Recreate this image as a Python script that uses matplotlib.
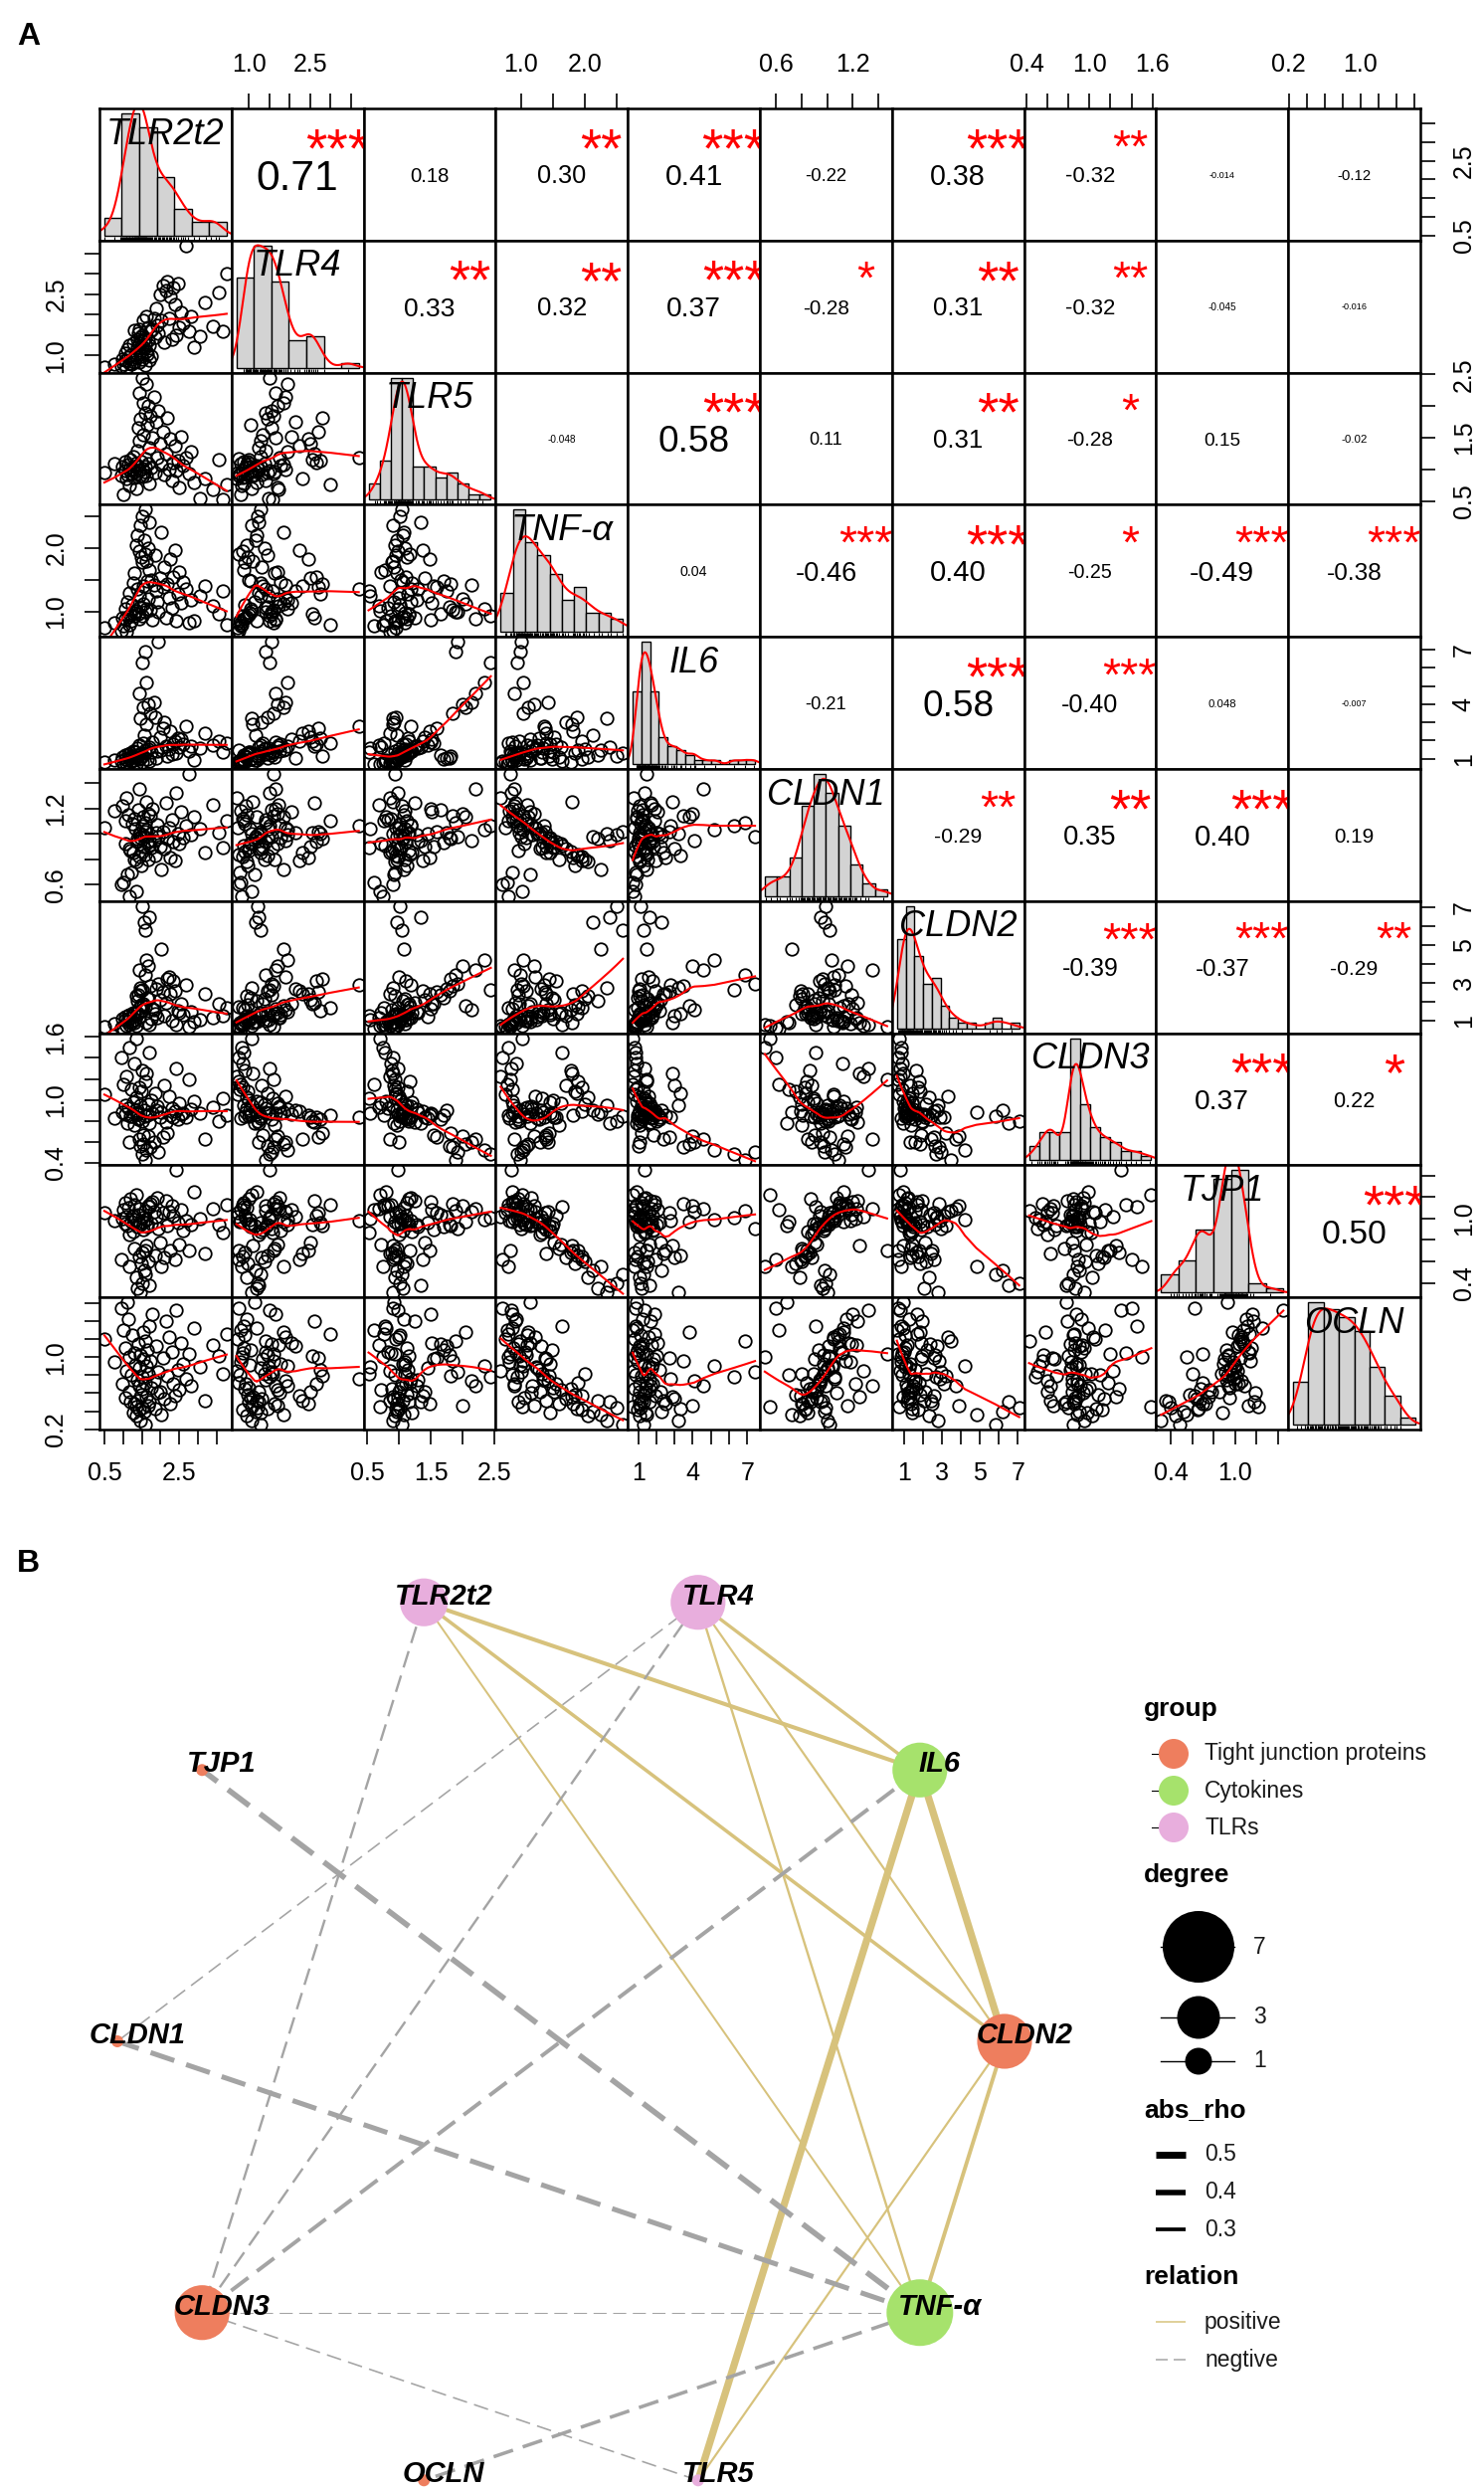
import numpy as np
import matplotlib
matplotlib.use("Agg")
import matplotlib.pyplot as plt

plt.rcParams["font.family"] = ["Liberation Sans", "DejaVu Sans"]
plt.rcParams["lines.scale_dashes"] = False

# ---------------- panel A data (80 samples) ----------------
names = ["TLR2t2", "TLR4", "TLR5", "TNF-α", "IL6", "CLDN1", "CLDN2", "CLDN3", "TJP1", "OCLN"]

tlr2t2 = [0.50, 0.78, 0.95, 0.98, 1.02, 1.05, 1.07, 1.10, 1.12, 1.14,
          1.16, 1.18, 1.20, 1.22, 1.25, 1.27, 1.29, 1.31, 1.33, 1.35,
          1.36, 1.38, 1.39, 1.40, 1.42, 1.43, 1.44, 1.46, 1.47, 1.48,
          1.50, 1.51, 1.52, 1.54, 1.55, 1.56, 1.58, 1.59, 1.60, 1.62,
          1.63, 1.64, 1.66, 1.68, 1.69, 1.71, 1.73, 1.75, 1.78, 1.82,
          1.85, 1.88, 1.92, 1.95, 1.99, 2.03, 2.07, 2.10, 2.14, 2.18,
          2.22, 2.26, 2.30, 2.34, 2.38, 2.42, 2.46, 2.50, 2.54, 2.60,
          2.68, 2.75, 2.82, 2.90, 3.05, 3.20, 3.40, 3.55, 3.68, 3.77]
tlr4 = [0.72, 0.80, 0.75, 0.92, 0.80, 1.05, 0.88, 0.70, 1.15, 0.95,
        1.25, 0.82, 1.00, 0.78, 0.90, 1.30, 0.85, 1.62, 1.02, 1.06,
        0.95, 1.40, 1.20, 1.55, 0.85, 1.30, 1.65, 1.08, 1.45, 0.98,
        1.22, 1.50, 0.90, 1.35, 1.85, 1.18, 0.76, 1.42, 1.28, 1.95,
        1.10, 1.04, 1.70, 1.38, 0.88, 1.25, 1.60, 0.99, 1.65, 1.90,
        1.45, 2.15, 1.75, 1.55, 2.50, 1.85, 2.70, 1.32, 2.60, 2.80,
        1.90, 2.45, 1.40, 2.65, 2.25, 1.50, 2.75, 1.70, 2.05, 1.78,
        3.69, 1.60, 1.95, 1.20, 1.48, 2.30, 1.72, 2.55, 1.58, 3.00]
tlr5 = [0.95, 1.10, 0.90, 1.05, 0.60, 0.98, 1.12, 0.85, 0.92, 1.08,
        1.00, 0.75, 1.15, 0.93, 1.02, 1.20, 0.88, 0.97, 1.10, 0.70,
        0.94, 1.30, 1.06, 1.65, 0.99, 1.45, 2.20, 0.91, 1.80, 1.13,
        1.01, 2.45, 0.89, 1.55, 2.05, 0.96, 1.17, 1.90, 1.04, 2.35,
        0.90, 1.70, 2.00, 1.09, 0.78, 1.35, 1.85, 1.03, 1.50, 2.15,
        0.95, 1.75, 1.18, 1.92, 1.40, 1.07, 1.60, 0.92, 1.25, 1.82,
        1.00, 1.48, 0.82, 1.11, 1.38, 0.98, 1.14, 0.72, 1.52, 1.06,
        1.19, 0.94, 1.28, 0.80, 0.55, 0.86, 0.68, 1.16, 0.52, 0.77]
tnf = [0.75, 0.82, 0.70, 0.90, 0.78, 1.05, 0.88, 0.68, 1.15, 0.92,
       1.30, 0.80, 0.95, 0.86, 1.10, 1.45, 0.93, 1.60, 0.98, 1.02,
       2.05, 1.35, 2.20, 0.96, 1.95, 1.25, 0.89, 2.35, 1.08, 1.85,
       2.50, 0.94, 1.78, 1.40, 1.12, 2.12, 1.90, 0.99, 2.60, 1.04,
       1.80, 1.48, 1.20, 2.00, 1.65, 2.40, 1.03, 1.50, 0.87, 1.42,
       1.88, 1.32, 1.16, 1.00, 1.52, 2.25, 1.38, 1.70, 0.91, 1.44,
       1.22, 1.82, 1.06, 1.55, 1.96, 0.85, 1.28, 1.62, 1.14, 1.46,
       1.36, 0.83, 1.18, 0.86, 1.24, 1.40, 1.09, 0.97, 1.33, 0.80]
il6 = [0.80, 0.95, 0.85, 1.10, 0.70, 1.00, 1.20, 0.75, 0.90, 1.25,
       1.05, 0.78, 1.30, 0.88, 1.15, 1.40, 0.92, 1.10, 1.35, 0.72,
       1.08, 1.60, 1.18, 1.22, 0.98, 1.75, 4.60, 3.20, 1.02, 1.28,
       1.12, 6.30, 0.82, 1.85, 3.80, 2.30, 1.45, 6.90, 1.32, 5.20,
       2.90, 0.96, 4.00, 1.50, 0.86, 1.65, 3.50, 1.38, 1.90, 4.10,
       3.30, 1.06, 1.42, 7.43, 2.20, 1.48, 2.70, 3.00, 1.70, 1.16,
       1.55, 2.50, 1.26, 1.80, 1.95, 1.33, 2.15, 1.62, 2.05, 1.78,
       2.80, 1.44, 1.68, 0.92, 1.58, 2.40, 1.72, 1.98, 1.36, 1.88]
cldn1 = [1.05, 1.18, 0.60, 1.22, 0.62, 0.92, 1.10, 1.28, 0.68, 1.15,
         0.88, 0.51, 0.87, 0.70, 1.08, 0.85, 1.12, 0.80, 1.04, 0.55,
         0.78, 0.94, 0.96, 1.19, 0.82, 1.00, 1.35, 1.00, 0.97, 0.75,
         0.99, 1.06, 0.86, 0.90, 1.13, 0.98, 0.84, 1.09, 1.02, 1.03,
         1.25, 0.93, 1.16, 0.80, 0.91, 0.95, 1.14, 0.89, 1.20, 0.95,
         0.83, 1.01, 1.07, 0.98, 0.90, 0.72, 1.02, 0.88, 1.24, 0.96,
         1.05, 0.81, 1.11, 0.94, 0.79, 1.32, 1.00, 0.92, 1.17, 0.97,
         1.06, 1.47, 0.99, 1.13, 1.04, 0.85, 1.23, 1.01, 0.89, 1.10]
cldn2 = [0.70, 0.85, 0.65, 1.10, 0.60, 1.20, 1.05, 0.75, 0.95, 1.25,
         1.30, 0.80, 1.15, 0.90, 1.02, 1.40, 0.88, 1.35, 1.08, 0.72,
         2.30, 1.45, 2.05, 2.35, 1.70, 1.22, 3.70, 2.75, 2.60, 1.85,
         7.07, 2.65, 1.60, 1.90, 1.80, 6.20, 1.75, 3.45, 5.80, 4.20,
         0.92, 2.20, 3.90, 2.15, 0.82, 6.50, 2.85, 1.12, 1.65, 1.58,
         1.38, 2.70, 1.18, 2.95, 2.10, 4.80, 2.55, 1.28, 1.95, 3.20,
         3.30, 2.45, 0.98, 3.10, 2.58, 0.78, 1.55, 1.42, 1.88, 1.32,
         2.90, 0.68, 1.48, 0.94, 1.06, 2.40, 1.16, 1.92, 1.26, 1.68]
cldn3 = [1.05, 0.82, 1.40, 0.88, 1.15, 0.86, 0.95, 1.22, 0.78, 0.92,
         0.60, 1.50, 0.84, 1.10, 0.84, 0.98, 1.35, 0.76, 0.90, 1.59,
         1.02, 0.88, 0.86, 0.81, 1.12, 0.82, 0.62, 0.95, 0.56, 1.08,
         0.80, 0.48, 1.28, 0.66, 0.58, 0.90, 1.18, 0.42, 0.84, 0.52,
         1.25, 0.85, 0.65, 0.96, 1.45, 0.78, 0.55, 1.00, 0.87, 0.60,
         1.06, 0.90, 0.94, 0.50, 0.83, 0.88, 0.64, 1.14, 0.79, 0.68,
         1.03, 0.85, 0.92, 0.83, 0.89, 1.30, 0.81, 0.97, 0.86, 0.87,
         0.83, 1.20, 0.91, 0.99, 0.87, 0.62, 0.93, 0.80, 1.01, 0.85]
tjp1 = [1.05, 0.98, 0.62, 1.00, 1.08, 0.95, 1.15, 1.02, 0.93, 1.10,
        0.85, 0.55, 1.18, 0.97, 1.03, 0.88, 1.13, 0.72, 0.99, 1.22,
        0.45, 0.92, 0.35, 1.04, 0.65, 0.96, 1.09, 0.31, 0.94, 0.58,
        0.40, 1.01, 0.68, 0.90, 0.97, 0.52, 0.70, 1.07, 0.48, 0.99,
        0.75, 0.92, 1.12, 0.60, 1.11, 0.38, 1.14, 0.95, 1.16, 1.06,
        0.66, 1.02, 1.19, 0.91, 0.78, 0.55, 1.05, 0.64, 1.17, 0.93,
        1.06, 0.70, 1.12, 1.03, 0.62, 1.45, 0.96, 0.76, 1.08, 0.89,
        0.98, 0.70, 0.94, 1.25, 1.00, 0.67, 1.09, 0.94, 0.87, 1.13]
ocln = [1.20, 0.95, 1.55, 0.70, 1.30, 0.55, 1.10, 0.85, 1.61, 1.42,
        0.62, 1.00, 0.50, 0.80, 1.25, 0.38, 1.05, 0.48, 0.92, 0.45,
        0.35, 0.75, 0.52, 1.15, 0.42, 0.88, 0.68, 0.30, 1.02, 0.58,
        0.44, 0.78, 0.65, 0.98, 1.28, 0.40, 0.72, 1.18, 0.25, 0.90,
        0.56, 1.08, 0.46, 0.82, 1.35, 0.50, 0.96, 0.66, 1.48, 0.74,
        0.43, 1.12, 0.60, 0.84, 0.62, 0.36, 0.99, 0.54, 1.40, 0.79,
        1.22, 0.48, 1.06, 0.70, 0.57, 1.52, 0.86, 0.64, 1.16, 0.93,
        0.76, 1.04, 0.68, 1.32, 0.89, 0.52, 1.14, 1.01, 0.81, 1.26]

# correlations printed in the upper triangle (row by row) and their stars
cor_txt = [
    ["0.71", "0.18", "0.30", "0.41", "-0.22", "0.38", "-0.32", "-0.014", "-0.12"],
    ["0.33", "0.32", "0.37", "-0.28", "0.31", "-0.32", "-0.045", "-0.016"],
    ["-0.048", "0.58", "0.11", "0.31", "-0.28", "0.15", "-0.02"],
    ["0.04", "-0.46", "0.40", "-0.25", "-0.49", "-0.38"],
    ["-0.21", "0.58", "-0.40", "0.048", "-0.007"],
    ["-0.29", "0.35", "0.40", "0.19"],
    ["-0.39", "-0.37", "-0.29"],
    ["0.37", "0.22"],
    ["0.50"],
]
cor_sig = [
    ["***", "", "**", "***", "", "***", "**", "", ""],
    ["**", "**", "***", "*", "**", "**", "", ""],
    ["", "***", "", "**", "*", "", ""],
    ["", "***", "***", "*", "***", "***"],
    ["", "***", "***", "", ""],
    ["**", "**", "***", ""],
    ["***", "***", "**"],
    ["***", "*"],
    ["***"],
]

ticks = [
    [0.5, 1.0, 1.5, 2.0, 2.5, 3.0, 3.5],
    [1.0, 1.5, 2.0, 2.5, 3.0, 3.5],
    [0.5, 1.0, 1.5, 2.0, 2.5],
    [1.0, 1.5, 2.0, 2.5],
    [1, 2, 3, 4, 5, 6, 7],
    [0.6, 0.8, 1.0, 1.2, 1.4],
    [1, 2, 3, 4, 5, 6, 7],
    [0.4, 0.6, 0.8, 1.0, 1.2, 1.4, 1.6],
    [0.4, 0.6, 0.8, 1.0, 1.2, 1.4],
    [0.2, 0.4, 0.6, 0.8, 1.0, 1.2, 1.4, 1.6],
]
tick_text = [
    ["0.5", "", "", "", "2.5", "", ""],
    ["1.0", "", "", "2.5", "", ""],
    ["0.5", "", "1.5", "", "2.5"],
    ["1.0", "", "2.0", ""],
    ["1", "", "", "4", "", "", "7"],
    ["0.6", "", "", "1.2", ""],
    ["1", "", "3", "", "5", "", "7"],
    ["0.4", "", "", "1.0", "", "", "1.6"],
    ["0.4", "", "", "1.0", "", ""],
    ["0.2", "", "", "", "1.0", "", "", ""],
]

# ---------------- panel B data (network) ----------------
node_names = ["CLDN2", "IL6", "TLR4", "TLR2t2", "TJP1", "CLDN1", "CLDN3", "OCLN", "TLR5", "TNF-α"]
node_group = ["Tight junction proteins", "Cytokines", "TLRs", "TLRs",
              "Tight junction proteins", "Tight junction proteins",
              "Tight junction proteins", "Tight junction proteins", "TLRs", "Cytokines"]
node_degree = [5, 5, 5, 4, 1, 1, 5, 1, 1, 7]

edge_from = ["TLR2t2", "TLR2t2", "TLR2t2", "TLR2t2", "TLR4", "TLR4", "TLR4", "TLR4", "TLR4",
             "TLR5", "TLR5", "TLR5", "TNF-α", "TNF-α", "TNF-α", "TNF-α", "TNF-α", "IL6", "IL6"]
edge_to = ["IL6", "TNF-α", "CLDN2", "CLDN3", "IL6", "TNF-α", "CLDN1", "CLDN2", "CLDN3",
           "IL6", "CLDN2", "CLDN3", "CLDN1", "CLDN2", "CLDN3", "TJP1", "OCLN", "CLDN2", "CLDN3"]
edge_rho = [0.41, 0.30, 0.38, -0.32, 0.37, 0.32, -0.28, 0.31, -0.32,
            0.58, 0.31, -0.28, -0.46, 0.40, -0.25, -0.49, -0.38, 0.58, -0.40]

group_names = ["Tight junction proteins", "Cytokines", "TLRs"]
group_colors = ["#EE7E5E", "#A6E26C", "#E8AEDD"]
pos_col, neg_col = "#D7C27C", "#A4A4A4"

degree_breaks = [7, 3, 1]
rho_breaks = [0.5, 0.4, 0.3]


# ---------------- helpers ----------------
def lowess(x, y, f=2 / 3, iters=3):
    order = np.argsort(x, kind="mergesort")
    x = np.asarray(x, float)[order]
    y = np.asarray(y, float)[order]
    n = len(x)
    r = max(min(int(np.floor(f * n + 1e-7)), n), 2)
    fit = np.zeros(n)
    rw = np.ones(n)
    for it in range(iters + 1):
        for i in range(n):
            d = np.abs(x - x[i])
            h = max(np.sort(d)[r - 1], 1e-12)
            u = d / h
            w = np.where(u < 1, (1 - u ** 3) ** 3, 0.0) * rw
            sw = w.sum()
            xm = (w * x).sum() / sw
            ym = (w * y).sum() / sw
            sxx = (w * (x - xm) ** 2).sum()
            b = (w * (x - xm) * (y - ym)).sum() / sxx if sxx > 1e-12 else 0.0
            fit[i] = ym + b * (x[i] - xm)
        res = y - fit
        s = np.median(np.abs(res))
        if s <= 0:
            break
        u = res / (6 * s)
        rw = np.where(np.abs(u) < 1, (1 - u ** 2) ** 2, 0.0)
    return x, fit


def fd_breaks(x):
    q75, q25 = np.percentile(x, [75, 25])
    h = 2 * (q75 - q25) * len(x) ** (-1 / 3)
    nb = max(int(np.ceil((x.max() - x.min()) / h)), 1)
    raw = (x.max() - x.min()) / nb
    mag = 10 ** np.floor(np.log10(raw))
    unit = min([1, 2, 5, 10], key=lambda u: abs(np.log(u * mag / raw))) * mag
    lo = np.floor(x.min() / unit + 1e-9) * unit
    hi = np.ceil(x.max() / unit - 1e-9) * unit
    return np.arange(lo, hi + unit / 2, unit)


def kde(x):
    n = len(x)
    iqr = np.subtract(*np.percentile(x, [75, 25]))
    bw = 0.9 * min(x.std(ddof=1), iqr / 1.34) * n ** (-0.2)
    g = np.linspace(x.min() - 3 * bw, x.max() + 3 * bw, 512)
    d = np.exp(-0.5 * ((g[:, None] - x[None, :]) / bw) ** 2).sum(1) / (n * bw * np.sqrt(2 * np.pi))
    return g, d


def limits(v):
    lo, hi = v.min(), v.max()
    pad = 0.04 * (hi - lo)
    return lo - pad, hi + pad


W, H = 1492, 2500
PX = 0.72  # points per pixel at dpi 100
fig = plt.figure(figsize=(W / 100, H / 100), dpi=100)
renderer = fig.canvas.get_renderer()

X0, Y0, CELL = 100, 109, 132.8


def text_width(s, size, **kw):
    t = fig.text(0, 0, s, fontsize=size, **kw)
    w = t.get_window_extent(renderer).width
    t.remove()
    return w


data = [np.array(v, float) for v in [tlr2t2, tlr4, tlr5, tnf, il6, cldn1, cldn2, cldn3, tjp1, ocln]]
nv = len(names)

for i in range(nv):
    for j in range(nv):
        ax = fig.add_axes([(X0 + j * CELL) / W, 1 - (Y0 + (i + 1) * CELL) / H, CELL / W, CELL / H])
        for s in ax.spines.values():
            s.set_linewidth(1.8)
        ax.set_xticks([])
        ax.set_yticks([])

        if i == j:
            v = data[i]
            edges = fd_breaks(v)
            span = edges[-1] - edges[0]
            dens, _ = np.histogram(np.clip(v - 1e-9, edges[0], None), bins=edges, density=True)
            ax.bar(edges[:-1], dens, width=np.diff(edges), align="edge",
                   color="#D3D3D3", edgecolor="black", linewidth=1.0)
            gx, gy = kde(v)
            ax.plot(gx, gy, color="red", lw=1.5)
            ax.vlines(v, 0, 0.03, transform=ax.get_xaxis_transform(), color="black", lw=0.8)
            ax.set_xlim(edges[0] - 0.04 * span, edges[-1] + 0.04 * span)
            ax.set_ylim(-0.04 * dens.max(), 1.04 * dens.max())
            em = 26 / PX
            ax.text(0.5, 0.83 - 0.358 * em / CELL, names[i], transform=ax.transAxes,
                    ha="center", va="baseline", fontsize=26, style="italic", zorder=5)
            continue

        ax.set_xlim(limits(data[j]))
        ax.set_ylim(limits(data[i]))

        if i > j:
            ax.plot(data[j], data[i], "o", mfc="none", mec="black", ms=9, mew=1.3)
            lx, ly = lowess(data[j], data[i])
            ax.plot(lx, ly, color="red", lw=1.5)
        else:
            txt = cor_txt[i][j - i - 1]
            sig = cor_sig[i][j - i - 1]
            r = float(txt)
            base = 10 * 0.8 * CELL / text_width(txt, 10)
            size = base * (abs(r) + 0.3) / 1.3
            ax.text(0.5, 0.5 - 0.358 * (size / PX) / CELL, txt, transform=ax.transAxes,
                    ha="center", va="baseline", fontsize=size)
            if sig:
                ax.text(0.8, 0.8 - 0.575 * (base / PX) / CELL, sig, transform=ax.transAxes,
                        ha="center", va="baseline", fontsize=base, color="red", clip_on=True)

        tp = dict(direction="out", length=10.8, width=1.2, labelsize=18, pad=12)
        if i == 0 and j % 2 == 1:
            ax.set_xticks(ticks[j])
            ax.set_xticklabels(tick_text[j])
            ax.tick_params(axis="x", top=True, labeltop=True, bottom=False, labelbottom=False, **tp)
        if i == nv - 1 and j % 2 == 0:
            ax.set_xticks(ticks[j])
            ax.set_xticklabels(tick_text[j])
            ax.tick_params(axis="x", **tp)
        if j == 0 and i % 2 == 1:
            ax.set_yticks(ticks[i])
            ax.set_yticklabels(tick_text[i])
            ax.tick_params(axis="y", **tp)
            for lab in ax.get_yticklabels():
                lab.set_rotation(90)
                lab.set_va("center")
                lab.set_ha("right")
        if j == nv - 1 and i % 2 == 0:
            ax.set_yticks(ticks[i])
            ax.set_yticklabels(tick_text[i])
            ax.tick_params(axis="y", left=False, labelleft=False, right=True, labelright=True, **tp)
            for lab in ax.get_yticklabels():
                lab.set_rotation(90)
                lab.set_va("center")
                lab.set_ha("left")

# ---------------- overlay in pixel coordinates: panel letters, network, legend ----------------
ov = fig.add_axes([0, 0, 1, 1])
ov.set_xlim(0, W)
ov.set_ylim(H, 0)
ov.axis("off")

ov.text(17, 45, "A", fontsize=23, fontweight="bold", va="baseline", ha="left")
ov.text(17, 1580, "B", fontsize=23, fontweight="bold", va="baseline", ha="left")

# circular layout
cx, cy, rx, ry = 564, 2052, 446, 464
ang = 2 * np.pi * np.arange(len(node_names)) / len(node_names)
pos = {nm: (cx + rx * np.cos(a), cy - ry * np.sin(a)) for nm, a in zip(node_names, ang)}


def edge_px(r):
    return 2 + (abs(r) - 0.3) * 19


for a, b, r in zip(edge_from, edge_to, edge_rho):
    (x1, y1), (x2, y2) = pos[a], pos[b]
    lw = edge_px(r)
    if r > 0:
        ov.plot([x1, x2], [y1, y2], color=pos_col, lw=lw * PX, solid_capstyle="butt", zorder=1)
    else:
        dash = (10 + 3 * lw) * PX
        ov.plot([x1, x2], [y1, y2], color=neg_col, lw=lw * PX, dashes=(dash, dash / 2),
                dash_capstyle="butt", zorder=1)

for nm, g, deg in zip(node_names, node_group, node_degree):
    x, y = pos[nm]
    d = np.sqrt(144 + 724 * (deg - 1))
    ov.scatter([x], [y], s=(d * PX) ** 2, color=group_colors[group_names.index(g)],
               edgecolors="none", zorder=3)
    ov.text(x + 20, y - 6, nm, ha="center", va="center", fontsize=21,
            fontweight="bold", style="italic", zorder=4)

# legend
LX, TX = 1150, 1211
title_kw = dict(fontsize=19, fontweight="bold", va="center", ha="left")
lab_kw = dict(fontsize=16.5, va="center", ha="left", color="#1a1a1a")

ov.text(LX, 1718, "group", **title_kw)
for k, (g, c) in enumerate(zip(group_names, group_colors)):
    y = 1763 + 37 * k
    ov.plot([1158, 1178], [y, y], color="black", lw=0.8, zorder=5)
    ov.scatter([1180], [y], s=(30 * PX) ** 2, color=c, edgecolors="none", zorder=6)
    ov.text(TX, y, g, **lab_kw)

ov.text(LX, 1885, "degree", **title_kw)
deg_key_px = [72, 43, 27]
deg_key_y = [1957, 2028, 2072]
for dv, dpx, y in zip(degree_breaks, deg_key_px, deg_key_y):
    ov.plot([1167, 1241], [y, y], color="black", lw=1.0, zorder=5)
    ov.scatter([1205], [y], s=(dpx * PX) ** 2, color="black", edgecolors="none", zorder=6)
    ov.text(1260, y, str(dv), **lab_kw)

ov.text(LX, 2121, "abs_rho", **title_kw)
rho_key_px = [7, 5.5, 3.7]
for k, (rv, wpx) in enumerate(zip(rho_breaks, rho_key_px)):
    y = 2166 + 37.5 * k
    ov.plot([1162, 1192], [y, y], color="black", lw=wpx * PX, solid_capstyle="butt")
    ov.text(TX, y, f"{rv:.1f}", **lab_kw)

ov.text(LX, 2289, "relation", **title_kw)
ov.plot([1162, 1192], [2334, 2334], color=pos_col, lw=1.5 * PX, solid_capstyle="butt")
ov.text(TX, 2334, "positive", **lab_kw)
ov.plot([1162, 1192], [2372, 2372], color=neg_col, lw=1.5 * PX, dashes=(12 * PX, 6 * PX))
ov.text(TX, 2372, "negtive", **lab_kw)

fig.savefig("out.png", dpi=100)
